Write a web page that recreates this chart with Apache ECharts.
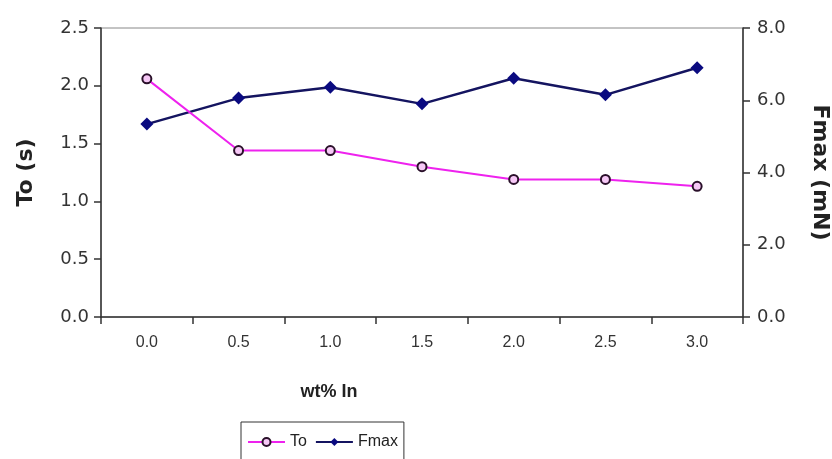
<!DOCTYPE html>
<html>
<head>
<meta charset="utf-8">
<script src="https://cdn.jsdelivr.net/npm/echarts@6/dist/echarts.min.js"></script>
<style>
  html, body { margin: 0; padding: 0; background: #fff; }
  #chart { width: 832px; height: 459px; }
</style>
</head>
<body>
<div id="chart"></div>
<script>
// data
const categories = ['0.0', '0.5', '1.0', '1.5', '2.0', '2.5', '3.0'];
const toValues = [2.06, 1.44, 1.44, 1.30, 1.19, 1.19, 1.13];
const fmaxValues = [5.34, 6.06, 6.36, 5.90, 6.61, 6.15, 6.90];

const font = 'Liberation Sans, Arial, sans-serif';
const wideFont = 'DejaVu Sans, sans-serif';
const axisLineStyle = { color: '#333', width: 1.5 };

const chart = echarts.init(document.getElementById('chart'));

const option = {
  animation: false,
  textStyle: { fontFamily: font },
  grid: {
    left: 101, right: 89, top: 28, bottom: 142,
    outerBoundsMode: 'none',
    containLabel: false,
    show: true, borderColor: '#888', borderWidth: 1
  },
  legend: {
    top: 422,
    left: 241,
    data: ['To', 'Fmax'],
    itemWidth: 37,
    itemHeight: 10,
    itemGap: 8,
    borderColor: '#333',
    borderWidth: 1,
    padding: [12, 6, 12, 6],
    textStyle: { fontFamily: font, fontSize: 16, color: '#222' }
  },
  xAxis: {
    type: 'category',
    data: categories,
    boundaryGap: true,
    name: 'wt% In',
    nameLocation: 'middle',
    nameGap: 66,
    nameTextStyle: {
      fontFamily: font, fontSize: 18, fontWeight: 'bold', color: '#222',
      padding: [0, 186, 0, 0]
    },
    axisLine: { lineStyle: axisLineStyle },
    axisTick: { show: true, length: 7, lineStyle: axisLineStyle },
    axisLabel: { fontSize: 16, color: '#333', margin: 18 }
  },
  yAxis: [
    {
      type: 'value',
      min: 0, max: 2.5, interval: 0.5,
      name: 'To (s)',
      nameLocation: 'middle',
      nameGap: 64,
      nameTextStyle: { fontFamily: wideFont, fontSize: 22, fontWeight: 'bold', color: '#222' },
      axisLine: { show: true, lineStyle: axisLineStyle },
      axisTick: { show: true, length: 7, lineStyle: axisLineStyle },
      axisLabel: { fontFamily: wideFont, fontSize: 18, color: '#333', margin: 12, formatter: v => v.toFixed(1) },
      splitLine: { show: false }
    },
    {
      type: 'value',
      min: 0, max: 8, interval: 2,
      name: 'Fmax (mN)',
      nameLocation: 'middle',
      nameGap: 66,
      nameRotate: -90,
      nameTextStyle: { fontFamily: wideFont, fontSize: 22, fontWeight: 'bold', color: '#222' },
      position: 'right',
      axisLine: { show: true, lineStyle: axisLineStyle },
      axisTick: { show: true, length: 7, lineStyle: axisLineStyle },
      axisLabel: { fontFamily: wideFont, fontSize: 18, color: '#333', margin: 14, formatter: v => v.toFixed(1) },
      splitLine: { show: false }
    }
  ],
  series: [
    {
      name: 'To',
      type: 'line',
      yAxisIndex: 0,
      data: toValues,
      symbol: 'circle',
      symbolSize: 9,
      showAllSymbol: true,
      lineStyle: { color: '#ee22ee', width: 2 },
      itemStyle: { color: '#f6c8f6', borderColor: '#2a102a', borderWidth: 2 },
      z: 3
    },
    {
      name: 'Fmax',
      type: 'line',
      yAxisIndex: 1,
      data: fmaxValues,
      symbol: 'diamond',
      symbolSize: 13,
      lineStyle: { color: '#141460', width: 2.5 },
      itemStyle: { color: '#0a0a80' },
      z: 2
    }
  ]
};

chart.setOption(option);
</script>
</body>
</html>
